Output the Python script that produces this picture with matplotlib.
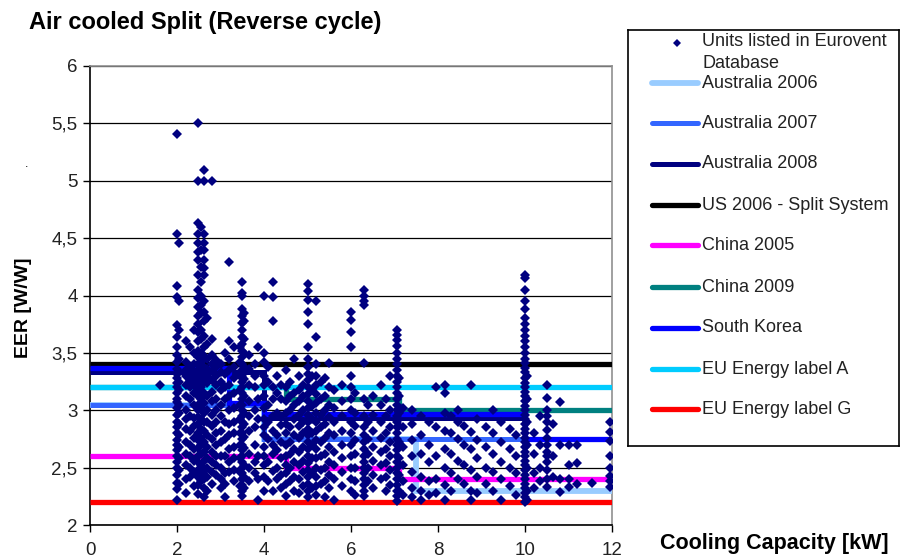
import matplotlib
matplotlib.use('Agg')
from matplotlib import pyplot as plt

plt.rcParams['font.family'] = ['Liberation Sans', 'DejaVu Sans']

# Eurovent units: capacity columns [kW] and the EER values listed at each capacity
small_kw = [1.6, 2.0, 2.05, 2.2, 2.3, 2.4, 2.48, 2.55, 2.62, 2.7, 2.8, 2.9, 3.0, 3.1,
            3.2, 3.3, 3.45, 3.5, 3.55, 3.65, 3.8, 3.87]
small_eer = [
    [3.22],
    [5.41, 4.54, 4.08, 3.99, 3.74, 3.64, 3.55, 3.48, 3.42, 3.36, 3.32, 3.28, 3.24, 3.2, 3.15,
     3.1, 3.07, 3.02, 2.96, 2.9, 2.85, 2.8, 2.74, 2.7, 2.65, 2.6, 2.55, 2.5, 2.44, 2.37, 2.31, 2.22],
    [4.46, 3.95, 3.7, 3.45, 3.33, 3.25, 3.18, 3.05, 2.98, 2.88, 2.78, 2.68, 2.58, 2.48, 2.36],
    [3.6, 3.42, 3.35, 3.3, 3.22, 3.12, 3.0, 2.92, 2.84, 2.72, 2.62, 2.52, 2.4, 2.28],
    [3.55, 3.38, 3.3, 3.26, 3.2, 3.1, 2.95, 2.82, 2.7, 2.6, 2.5, 2.42],
    [3.7, 3.5, 3.4, 3.33, 3.27, 3.22, 3.15, 3.05, 2.93, 2.86, 2.76, 2.66, 2.56, 2.46, 2.34],
    [5.5, 5.0, 4.63, 4.54, 4.46, 4.38, 4.31, 4.18, 4.05, 3.98, 3.9, 3.82, 3.75, 3.68, 3.6, 3.52,
     3.46, 3.4, 3.35, 3.3, 3.26, 3.22, 3.18, 3.12, 3.05, 3.0, 2.94, 2.88, 2.8, 2.74, 2.67, 2.6,
     2.55, 2.48, 2.42, 2.35, 2.27],
    [4.6, 4.4, 4.25, 4.12, 4.0, 3.92, 3.85, 3.7, 3.62, 3.5, 3.42, 3.36, 3.28, 3.2, 3.1, 3.02,
     2.92, 2.84, 2.76, 2.7, 2.62, 2.52, 2.45, 2.38],
    [5.09, 5.0, 4.54, 4.46, 4.4, 4.31, 4.24, 4.18, 3.95, 3.86, 3.78, 3.65, 3.55, 3.47, 3.38,
     3.32, 3.25, 3.15, 3.06, 2.98, 2.9, 2.82, 2.72, 2.64, 2.56, 2.47, 2.4, 2.32, 2.24],
    [3.8, 3.58, 3.45, 3.36, 3.3, 3.24, 3.12, 3.0, 2.9, 2.78, 2.68, 2.58, 2.5, 2.42, 2.3],
    [5.0, 3.62, 3.48, 3.4, 3.34, 3.26, 3.16, 3.08, 2.96, 2.86, 2.75, 2.64, 2.55, 2.46, 2.36],
    [3.44, 3.38, 3.3, 3.22, 3.1, 3.0, 2.9, 2.8, 2.7, 2.6, 2.52, 2.44],
    [3.4, 3.33, 3.25, 3.18, 3.05, 2.95, 2.82, 2.72, 2.6, 2.5, 2.4, 2.32],
    [3.5, 3.32, 3.2, 3.1, 2.9, 2.75, 2.6, 2.45, 2.36, 2.24],
    [4.29, 3.6, 3.45, 3.35, 3.22, 3.12, 3.0, 2.88, 2.78, 2.66, 2.55, 2.46],
    [3.55, 3.38, 3.28, 3.15, 3.02, 2.9, 2.8, 2.68, 2.58, 2.48, 2.38],
    [3.55, 3.42, 3.3, 3.18, 3.05, 2.92, 2.8, 2.7, 2.58, 2.46, 2.34],
    [4.12, 4.02, 4.0, 3.88, 3.82, 3.76, 3.7, 3.64, 3.58, 3.52, 3.46, 3.4, 3.35, 3.3, 3.25, 3.2,
     3.15, 3.1, 3.05, 3.0, 2.95, 2.9, 2.85, 2.8, 2.75, 2.7, 2.65, 2.6, 2.55, 2.5, 2.45, 2.4,
     2.35, 2.3, 2.25],
    [3.85, 3.78, 3.62, 3.5, 3.38, 3.27, 3.12, 2.98, 2.88, 2.77, 2.67, 2.52, 2.42, 2.32],
    [3.48, 3.36, 3.22, 3.08, 2.95, 2.82, 2.62, 2.5, 2.38],
    [3.4, 3.3, 3.2, 3.0, 2.85, 2.7, 2.55, 2.45],
    [3.55, 3.1, 2.92, 2.6, 2.4, 2.22],
]

mid_kw = [4.0, 4.1, 4.2, 4.3, 4.4, 4.5, 4.6, 4.7, 4.8, 4.9, 5.0, 5.1, 5.2, 5.3, 5.4, 5.5,
          5.6, 5.8, 6.0, 6.1, 6.3, 6.4, 6.5, 6.7, 6.8, 6.9, 7.05, 7.1, 7.2, 7.4, 7.6, 7.8]
mid_eer = [
    [4.0, 3.5, 3.42, 3.3, 3.22, 3.12, 3.02, 2.92, 2.85, 2.78, 2.68, 2.6, 2.52, 2.42, 2.3],
    [3.38, 3.25, 3.05, 2.9, 2.75, 2.55, 2.38],
    [4.12, 3.99, 3.78, 3.2, 3.1, 2.95, 2.82, 2.7, 2.62, 2.47, 2.3],
    [3.3, 3.15, 2.98, 2.78, 2.65, 2.5, 2.4],
    [3.22, 3.1, 2.95, 2.87, 2.72, 2.58, 2.44, 2.32],
    [3.35, 3.2, 3.08, 2.98, 2.88, 2.8, 2.7, 2.6, 2.52, 2.45, 2.36, 2.25],
    [3.25, 3.12, 3.0, 2.85, 2.72, 2.62, 2.5, 2.38],
    [3.45, 3.15, 3.05, 2.92, 2.78, 2.66, 2.55, 2.42, 2.3],
    [3.3, 3.18, 3.08, 2.96, 2.86, 2.76, 2.64, 2.52, 2.4, 2.28],
    [3.22, 3.12, 3.0, 2.9, 2.8, 2.68, 2.56, 2.46, 2.34],
    [4.1, 4.04, 3.96, 3.86, 3.75, 3.55, 3.45, 3.38, 3.32, 3.26, 3.2, 3.14, 3.08, 3.02, 2.96,
     2.9, 2.84, 2.78, 2.72, 2.66, 2.6, 2.54, 2.48, 2.42, 2.36, 2.3, 2.24],
    [3.3, 3.18, 3.04, 2.92, 2.8, 2.7, 2.58, 2.45, 2.32],
    [3.95, 3.64, 3.4, 3.3, 3.22, 3.14, 3.06, 2.98, 2.9, 2.82, 2.74, 2.66, 2.58, 2.5, 2.42,
     2.34, 2.26],
    [3.25, 3.1, 2.96, 2.85, 2.72, 2.6, 2.48, 2.36],
    [3.28, 3.12, 3.0, 2.88, 2.76, 2.62, 2.5, 2.38, 2.24],
    [3.41, 3.2, 3.05, 2.94, 2.8, 2.68, 2.55, 2.44, 2.32],
    [3.18, 3.02, 2.9, 2.78, 2.64, 2.52, 2.4, 2.22],
    [3.22, 3.08, 2.95, 2.82, 2.7, 2.58, 2.46, 2.34],
    [3.86, 3.79, 3.68, 3.55, 3.3, 3.2, 3.1, 3.0, 2.9, 2.8, 2.7, 2.6, 2.5, 2.4, 2.3],
    [3.15, 2.98, 2.86, 2.74, 2.62, 2.5, 2.38, 2.26],
    [4.05, 4.0, 3.95, 3.92, 3.41, 3.1, 2.95, 2.85, 2.78, 2.72, 2.66, 2.6, 2.55, 2.5, 2.45,
     2.4, 2.35, 2.3, 2.25],
    [3.05, 2.9, 2.75, 2.62, 2.5, 2.38],
    [3.12, 2.96, 2.82, 2.68, 2.56, 2.44, 2.32],
    [3.22, 3.05, 2.9, 2.76, 2.64, 2.52, 2.4],
    [3.1, 2.95, 2.8, 2.66, 2.54, 2.42, 2.3],
    [3.3, 3.0, 2.85, 2.72, 2.6, 2.48, 2.35],
    [3.7, 3.66, 3.61, 3.56, 3.5, 3.45, 3.4, 3.35, 3.3, 3.25, 3.2, 3.15, 3.1, 3.05, 3.0, 2.95,
     2.9, 2.85, 2.8, 2.75, 2.7, 2.65, 2.6, 2.55, 2.5, 2.45, 2.4, 2.35, 2.3, 2.25, 2.21],
    [3.28, 3.12, 2.98, 2.86, 2.72, 2.58, 2.44, 2.3],
    [3.02, 2.85, 2.68, 2.52, 2.38, 2.26],
    [3.0, 2.88, 2.74, 2.6, 2.46, 2.32, 2.24],
    [2.95, 2.78, 2.62, 2.42, 2.3, 2.22],
    [2.9, 2.7, 2.55, 2.38, 2.26],
]

large_kw = [7.95, 8.15, 8.3, 8.45, 8.6, 8.75, 8.9, 9.1, 9.27, 9.45, 9.65, 9.8, 10.0, 10.05,
            10.2, 10.35, 10.5, 10.65, 10.8, 11.0, 11.2, 11.55, 11.95]
large_eer = [
    [3.2, 2.85, 2.6, 2.4, 2.28],
    [3.22, 3.15, 2.98, 2.82, 2.66, 2.5, 2.35, 2.22],
    [2.95, 2.8, 2.62, 2.45, 2.3],
    [3.0, 2.9, 2.75, 2.56, 2.4],
    [2.86, 2.7, 2.52, 2.36],
    [3.22, 2.81, 2.66, 2.48, 2.3, 2.22],
    [2.92, 2.74, 2.58, 2.42, 2.28],
    [2.85, 2.68, 2.5, 2.36],
    [3.0, 2.8, 2.62, 2.46, 2.3],
    [2.9, 2.72, 2.55, 2.4, 2.22],
    [2.84, 2.66, 2.5, 2.34],
    [2.78, 2.6, 2.45, 2.26],
    [4.18, 4.15, 4.05, 3.95, 3.88, 3.8, 3.75, 3.7, 3.65, 3.6, 3.55, 3.5, 3.45, 3.41, 3.37,
     3.33, 3.28, 3.24, 3.2, 3.16, 3.12, 3.08, 3.04, 3.0, 2.96, 2.92, 2.88, 2.84, 2.8, 2.76,
     2.72, 2.68, 2.64, 2.6, 2.56, 2.52, 2.48, 2.44, 2.4, 2.36, 2.32, 2.28, 2.24, 2.2],
    [3.3, 3.1, 2.9, 2.7, 2.5, 2.3, 2.22],
    [2.8, 2.62, 2.45, 2.32],
    [2.95, 2.7, 2.5, 2.38],
    [3.22, 3.11, 3.0, 2.95, 2.9, 2.83, 2.76, 2.7, 2.64, 2.6, 2.55, 2.48, 2.4, 2.33],
    [2.88, 2.6, 2.42],
    [3.07, 2.7, 2.4, 2.29],
    [2.7, 2.52, 2.4, 2.33],
    [2.7, 2.54, 2.36],
    [2.37],
    [2.9, 2.81, 2.73, 2.6, 2.5, 2.43, 2.38, 2.33],
]

# minimum EER requirements: capacity band edges [kW] and the EER in each band
aus2006_kw, aus2006_eer = [0, 4, 7.5, 12], [3.05, 2.75, 2.3]
aus2007_kw, aus2007_eer = [0, 4, 12], [3.05, 2.75]
aus2008_kw, aus2008_eer = [0, 4, 10, 12], [3.33, 2.93, 2.75]
us2006_kw, us2006_eer = [0, 12], [3.4]
china2005_kw, china2005_eer = [0, 4.5, 7.1, 12], [2.6, 2.5, 2.4]
china2009_kw, china2009_eer = [0, 4.5, 7.1, 12], [3.2, 3.1, 3.0]
korea_kw, korea_eer = [0, 3.2, 4, 10, 12], [3.37, 3.06, 2.97, 2.75]
eu_a_kw, eu_a_eer = [0, 12], [3.2]
eu_g_kw, eu_g_eer = [0, 12], [2.2]

standard_names = ['Australia 2006', 'Australia 2007', 'Australia 2008', 'US 2006 - Split System',
                  'China 2005', 'China 2009', 'South Korea', 'EU Energy label A', 'EU Energy label G']
standard_colors = ['#99ccff', '#3366ff', '#000080', '#000000', '#ff00ff',
                   '#008080', '#0000ff', '#00ccff', '#ff0000']
standard_widths = [4.2, 3.6, 3.6, 3.8, 3.8, 3.8, 3.8, 3.8, 3.8]

y_ticks = [2, 2.5, 3, 3.5, 4, 4.5, 5, 5.5, 6]
y_tick_labels = ['2', '2,5', '3', '3,5', '4', '4,5', '5', '5,5', '6']
x_ticks = [0, 2, 4, 6, 8, 10, 12]

unit_kw, unit_eer = [], []
for kws, eers in ((small_kw, small_eer), (mid_kw, mid_eer), (large_kw, large_eer)):
    for k, ys in zip(kws, eers):
        unit_kw += [k] * len(ys)
        unit_eer += ys

standards = [(aus2006_kw, aus2006_eer), (aus2007_kw, aus2007_eer), (aus2008_kw, aus2008_eer),
             (us2006_kw, us2006_eer), (china2005_kw, china2005_eer),
             (china2009_kw, china2009_eer), (korea_kw, korea_eer),
             (eu_a_kw, eu_a_eer), (eu_g_kw, eu_g_eer)]

W, H = 901, 560
fig = plt.figure(figsize=(W / 100, H / 100), dpi=100)
ax = fig.add_axes([90 / W, (H - 525) / H, 522 / W, 459 / H])

for (edges, vals), c, lw in zip(standards, standard_colors, standard_widths):
    ax.stairs(vals, edges, baseline=None, color=c, lw=lw, zorder=3)

ax.plot(unit_kw, unit_eer, 'D', ms=4.8, mew=0, color='#000080', zorder=5)

ax.set_xlim(0, 12)
ax.set_ylim(2, 6)
ax.set_xticks(x_ticks)
ax.set_yticks(y_ticks, labels=y_tick_labels)
ax.yaxis.grid(True, color='black', lw=0.9)
ax.set_axisbelow(True)
ax.tick_params(direction='out', length=5, width=1, labelsize=13.5, labelcolor='#222222')
ax.tick_params(axis='y', pad=4)
ax.tick_params(axis='x', pad=7)
for s in ('top', 'right'):
    ax.spines[s].set_color('#909090')
    ax.spines[s].set_linewidth(1.2)
for s in ('left', 'bottom'):
    ax.spines[s].set_linewidth(1.2)

fig.text(29 / W, 1 - 22 / H, 'Air cooled Split (Reverse cycle)', fontsize=17,
         fontweight='bold', ha='left', va='center')
fig.text(24 / W, 1 - 308 / H, 'EER [W/W]', fontsize=14, fontweight='bold',
         rotation=90, ha='center', va='center')
fig.text(660 / W, 1 - 543 / H, 'Cooling Capacity [kW]', fontsize=15.5,
         fontweight='bold', ha='left', va='center')
fig.text(27 / W, 1 - 164 / H, '.', fontsize=9, ha='center', va='center')

# legend box drawn in its own pixel-scaled axes
lax = fig.add_axes([628 / W, (H - 446) / H, 271 / W, 416 / H])
lax.set_xlim(628, 899)
lax.set_ylim(446, 30)
lax.set_xticks([])
lax.set_yticks([])
for s in lax.spines.values():
    s.set_linewidth(1.2)

lax.plot([677], [43], 'D', ms=4.2, mew=0, color='#000080')
lax.text(702, 42, 'Units listed in Eurovent', fontsize=13, va='center', color='#222222')
lax.text(702, 63, 'Database', fontsize=13, va='center', color='#222222')
row_y = [83, 123, 164, 205, 245, 287, 328, 369, 409]
for y, name, c, lw in zip(row_y, standard_names, standard_colors, standard_widths):
    lax.plot([652, 698], [y, y], color=c, lw=lw, solid_capstyle='round')
    lax.text(702, y, name, fontsize=13, va='center', color='#222222')

fig.savefig('out.png', dpi=100)
